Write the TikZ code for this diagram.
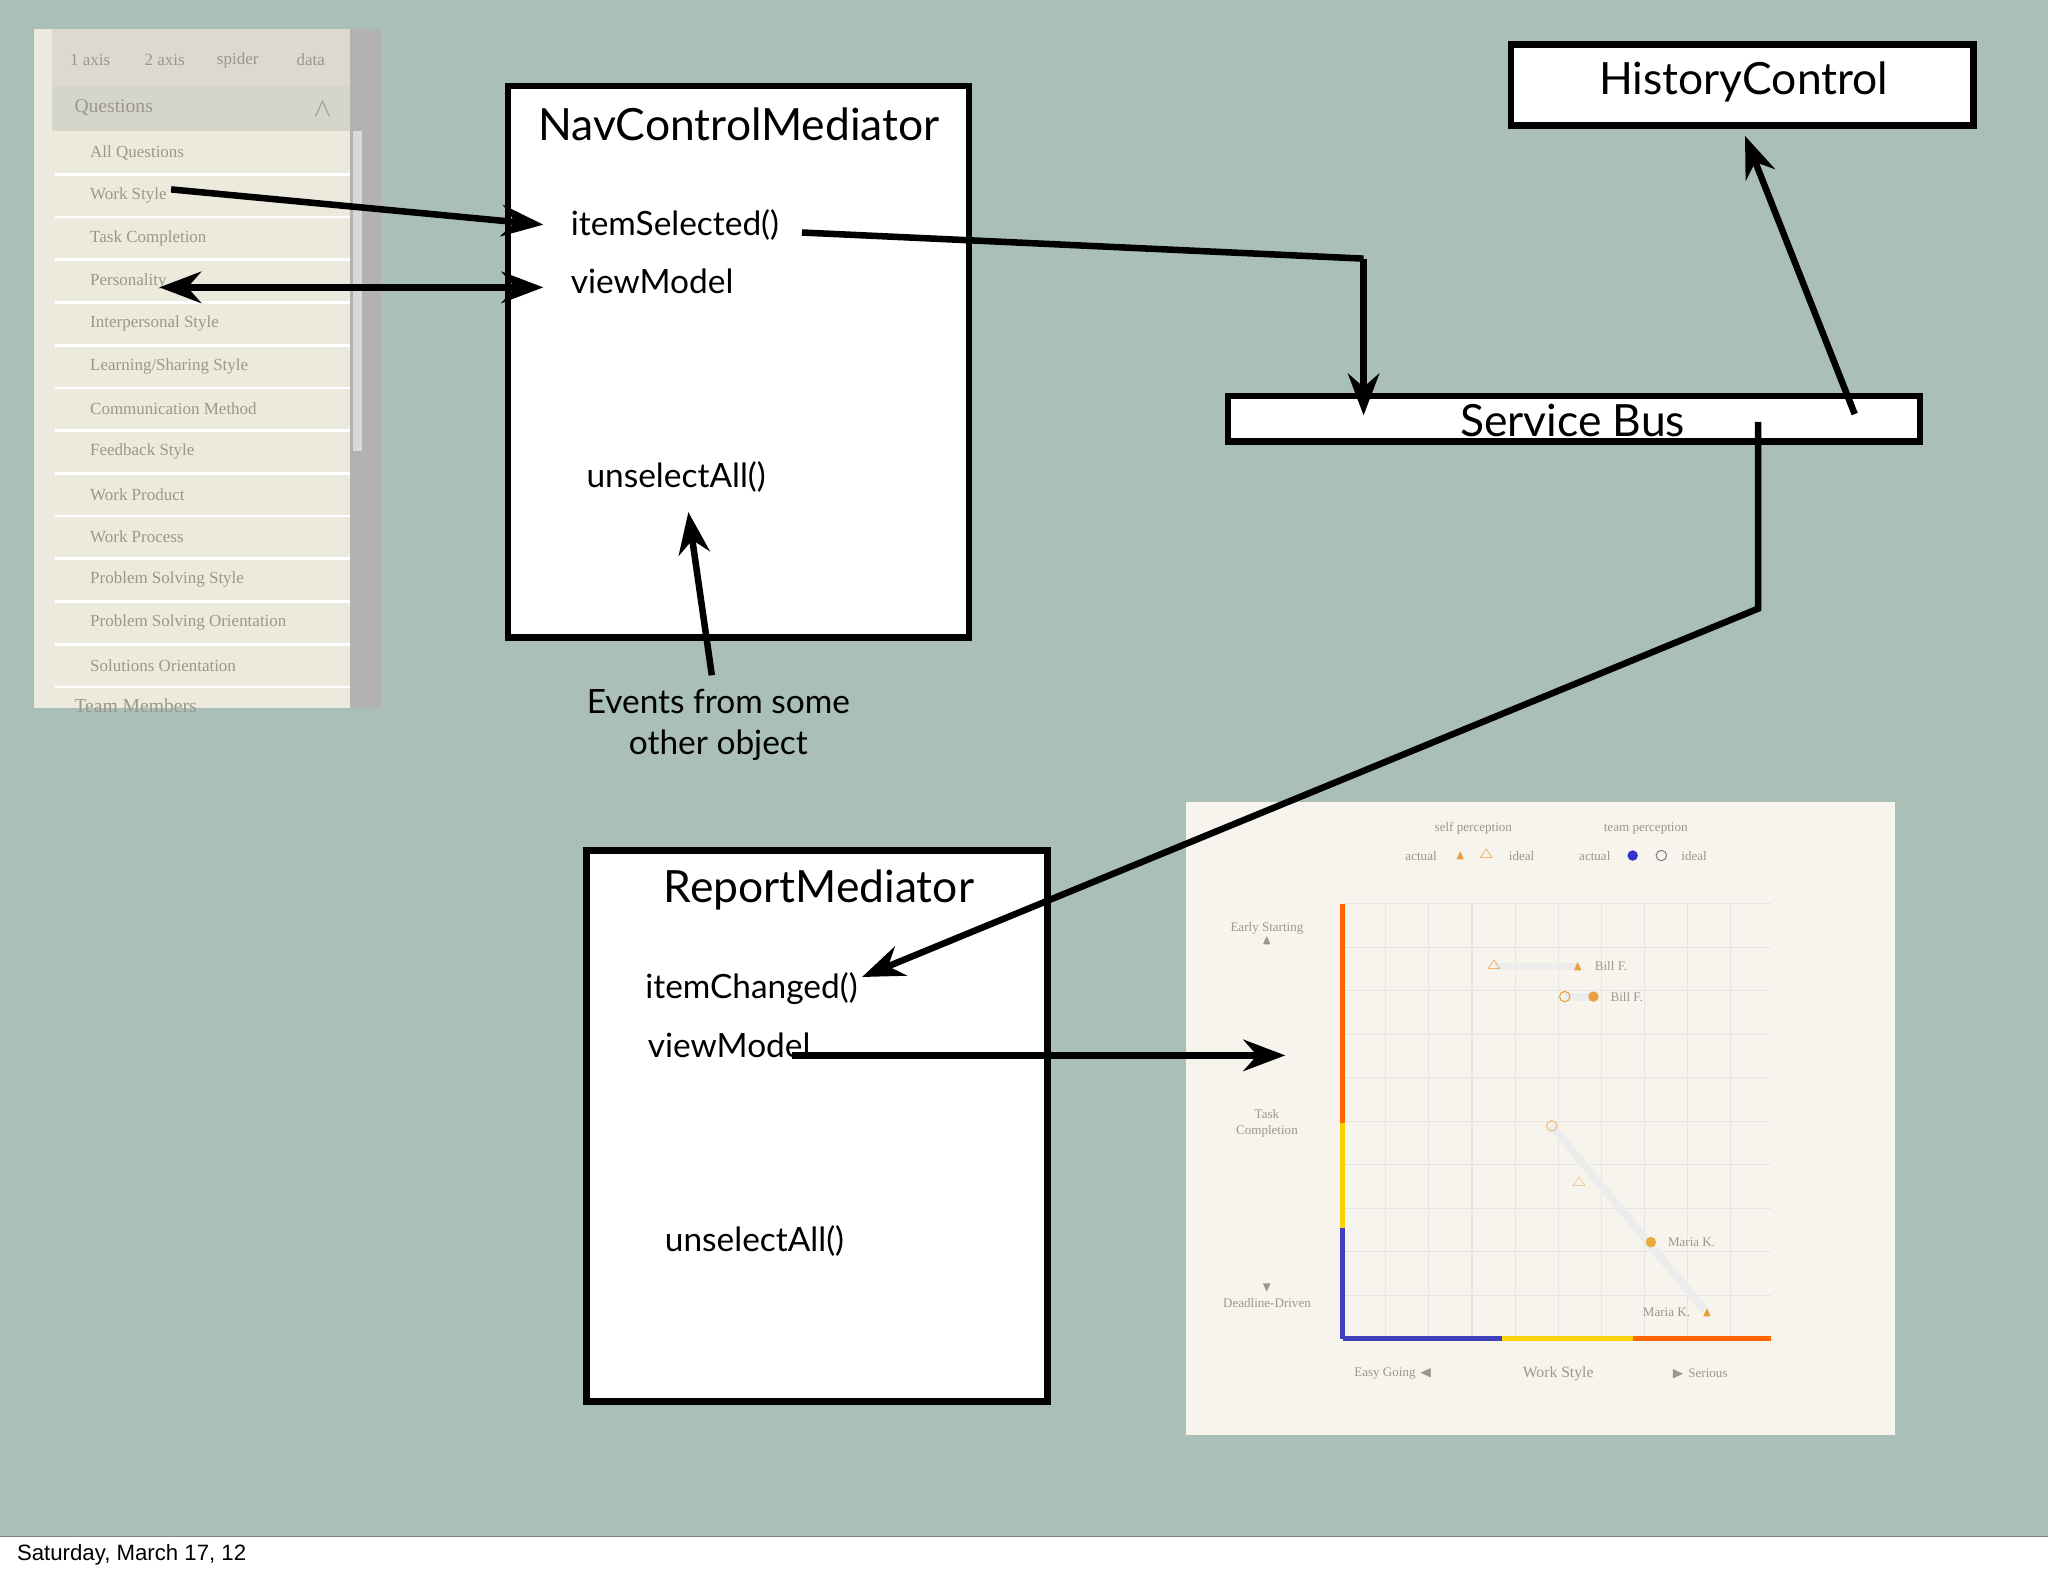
\documentclass[tikz,border=0pt]{standalone}
\usepackage{amssymb}
\usepackage{fontspec}
\setmainfont{Lato}
\newfontfamily\serifp{Liberation Serif}
\newfontfamily\sansp{Liberation Sans}
\usetikzlibrary{arrows.meta}
\definecolor{bg}{HTML}{AABFB8}
\definecolor{panel}{HTML}{ECEADC}
\definecolor{chartbg}{HTML}{F7F4EE}
\definecolor{ltxt}{HTML}{9A978C}
\definecolor{orng}{HTML}{E8A040}
\tikzset{
 box/.style={draw=black,line width=2.5pt,fill=white},
 conn/.style={line width=2.5pt,-{Stealth[length=16pt,width=12pt]}},
 ttl/.style={font=\fontsize{17}{20}\selectfont,anchor=west},
 itm/.style={font=\fontsize{12.8}{15}\selectfont,anchor=west},
 lst/.style={font=\serifp\fontsize{6.5}{8}\selectfont,text=ltxt,anchor=west},
 chl/.style={font=\serifp\fontsize{5}{6}\selectfont,text=ltxt,align=center},
}
\begin{document}
\begin{tikzpicture}[x=0.5pt,y=-0.5pt]
\useasboundingbox (0,0) rectangle (1568,1207);
\fill[bg] (0,0) rectangle (1568,1176);
\fill[white] (0,1176) rectangle (1568,1207);
\draw[gray] (0,1176) -- (1568,1176);
\node[font=\sansp\fontsize{8.5}{10}\selectfont,anchor=west] (date) at (6,1190) {Saturday, March 17, 12};
% left panel
\fill[panel] (26,22) rectangle (292,542);
\fill[panel!85!gray] (40,22) rectangle (268,66);
\fill[panel!80!gray] (40,66) rectangle (268,100);
\fill[gray!60] (268,22) rectangle (292,542);
\fill[gray!30] (270,100) rectangle (277,345);
\foreach \t/\x in {1 axis/69,2 axis/126,spider/182,data/238}
  \node[lst,anchor=center] at (\x,46) {\t};
\node[lst,font=\serifp\fontsize{7.5}{9}\selectfont] (q) at (50,82) {Questions};
\node[text=ltxt] at (247,84) {$\wedge$};
\foreach \t [count=\i from 0] in {All Questions,Work Style,Task Completion,Personality,Interpersonal Style,Learning/Sharing Style,Communication Method,Feedback Style,Work Product,Work Process,Problem Solving Style,Problem Solving Orientation,Solutions Orientation}{
  \node[lst] at (62,117+32.7*\i) {\t};
  \draw[white,line width=1pt] (42,133.5+32.7*\i) -- (268,133.5+32.7*\i);
}
\node[lst,font=\serifp\fontsize{7.5}{9}\selectfont] at (50,540) {Team Members};
% boxes
\draw[box] (389,66) rectangle (742,488);
\node[ttl] (ncm) at (405,95) {NavControlMediator};
\node[itm] (isel) at (430,172) {itemSelected()};
\node[itm] (vm1) at (430,215) {viewModel};
\node[itm] (ua1) at (442,365) {unselectAll()};
\draw[box] (1157,34) rectangle (1511,96);
\node[ttl,anchor=center] (hc) at (1335,63) {HistoryControl};
\draw[box] (940,303) rectangle (1470,338);
\node[ttl,anchor=center] (sb) at (1204,322) {Service Bus};
\draw[box] (449,651) rectangle (802,1073);
\node[ttl] (rm) at (501,681) {ReportMediator};
\node[itm] (ich) at (487,757) {itemChanged()};
\node[itm] (vm2) at (489,800) {viewModel};
\node[itm] (ua2) at (502,950) {unselectAll()};
\node[font=\fontsize{12.8}{16}\selectfont,align=center] (ev) at (550,555) {Events from some\\other object};
% chart
\fill[chartbg] (908,614) rectangle (1451,1099);
\foreach \i in {0,...,9} \draw[gray!20] (1028+33*\i,692) -- (1028+33*\i,1025);
\foreach \i in {0,...,10} \draw[gray!20] (1028,692+33.3*\i) -- (1356,692+33.3*\i);
\draw[line width=2pt,orange!80!red] (1028,692) -- (1028,860);
\draw[line width=2pt,yellow!70!orange] (1028,860) -- (1028,940);
\draw[line width=2pt,blue!50!gray] (1028,940) -- (1028,1025);
\draw[line width=2pt,blue!50!gray] (1028,1025) -- (1150,1025);
\draw[line width=2pt,yellow!70!orange] (1150,1025) -- (1250,1025);
\draw[line width=2pt,orange!80!red] (1250,1025) -- (1356,1025);
\node[chl] at (1128,634) {self perception};
\node[chl] at (1260,634) {team perception};
\node[chl] at (1088,655) {actual};
\node[chl,text=orng] at (1118,655) {$\blacktriangle$};
\node[chl,text=orng] at (1138,655) {$\triangle$};
\node[chl] at (1165,655) {ideal};
\node[chl] at (1221,655) {actual};
\fill[blue!60!gray] (1250,655) circle (4);
\draw[gray] (1272,655) circle (4);
\node[chl] at (1297,655) {ideal};
\node[chl] at (970,715) {Early Starting\\[-1pt]$\blacktriangle$};
\node[chl] at (970,860) {Task\\Completion};
\node[chl] at (970,992) {$\blacktriangledown$\\Deadline-Driven};
\node[chl] at (1067,1052) {Easy Going $\blacktriangleleft$};
\node[chl,font=\serifp\fontsize{6}{7}\selectfont] at (1193,1052) {Work Style};
\node[chl] at (1301,1052) {$\blacktriangleright$ Serious};
\draw[gray!15,line width=3pt] (1144,740) -- (1208,740);
\draw[gray!15,line width=3pt] (1198,763) -- (1220,763);
\draw[gray!15,line width=3pt] (1188,862) -- (1305,1003);
\node[chl,text=orng] at (1144,740) {$\triangle$};
\node[chl,text=orng] at (1208,740) {$\blacktriangle$};
\node[chl,anchor=west] at (1214,740) {Bill F.};
\draw[orng] (1198,763) circle (4);
\fill[orng] (1220,763) circle (4);
\node[chl,anchor=west] at (1226,763) {Bill F.};
\draw[orng!70] (1188,862) circle (4);
\node[chl,text=orng!70] at (1209,906) {$\triangle$};
\fill[orng!90!yellow] (1264,951) circle (4);
\node[chl,anchor=west] at (1270,951) {Maria K.};
\node[chl,anchor=east] at (1301,1005) {Maria K.};
\node[chl,text=orng] at (1307,1005) {$\blacktriangle$};
% connectors
\coordinate (ws) at (131,145);
\coordinate (pe) at (122,220);
\coordinate (ise) at (416,172);
\coordinate (vme) at (416,220);
\coordinate (c1) at (1044,198);
\coordinate (sbl) at (1044,318);
\coordinate (sbr) at (1420,317);
\coordinate (sbo) at (1346,323);
\coordinate (c2) at (1346,466);
\coordinate (evt) at (545,517);
\coordinate (chart) at (984,808);
\draw[conn] (ws) -- (ise);
\draw[conn,{Stealth[length=16pt,width=12pt]}-{Stealth[length=16pt,width=12pt]}] (pe) -- (vme);
\draw[line width=2.5pt] (614,178) -- (c1);
\draw[conn] (c1) -- (sbl);
\draw[conn] (sbr) -- (1336,104);
\draw[conn] (sbo) -- (c2) -- (660,748);
\draw[conn] (evt) -- (527,392);
\draw[conn] (606,808) -- (chart);
\end{tikzpicture}
\end{document}
